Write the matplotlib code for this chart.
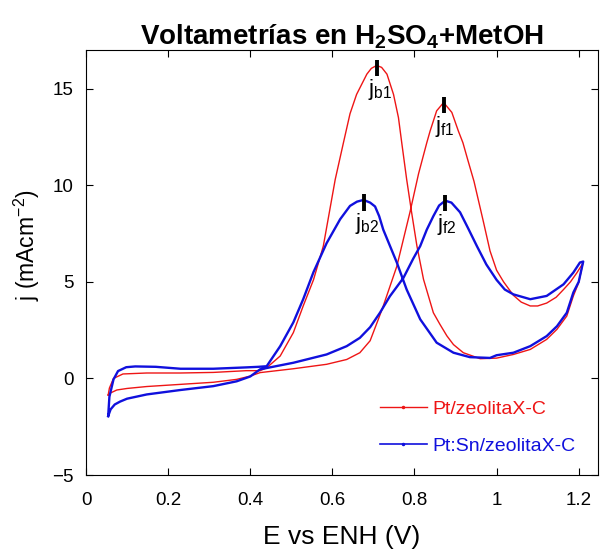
import numpy as np
import matplotlib
matplotlib.use("Agg")
from matplotlib import pyplot as plt
from matplotlib.lines import Line2D

plt.rcParams['font.family'] = ['Liberation Sans', 'DejaVu Sans']
plt.rcParams['mathtext.fontset'] = 'custom'
plt.rcParams['mathtext.rm'] = 'Liberation Sans'
plt.rcParams['mathtext.it'] = 'Liberation Sans'
plt.rcParams['mathtext.bf'] = 'Liberation Sans:bold'

# ---- datos (E en V, j en mA/cm2) ----
# Pt/zeolitaX-C : barrido directo
E_pt_ida = [0.054, 0.06, 0.075, 0.10, 0.148, 0.229, 0.31, 0.367, 0.40, 0.424,
            0.505, 0.586, 0.635, 0.667, 0.692, 0.712, 0.724, 0.757, 0.789, 0.81,
            0.83, 0.838, 0.854, 0.871, 0.891, 0.907, 0.918, 0.93, 0.945, 0.968,
            0.984, 1.0, 1.017, 1.041, 1.06, 1.082, 1.10, 1.122, 1.145, 1.163,
            1.18, 1.195, 1.21]
j_pt_ida = [-0.86, -0.75, -0.6, -0.52, -0.42, -0.31, -0.2, -0.05, 0.12, 0.3,
            0.5, 0.73, 0.98, 1.33, 1.95, 3.06, 3.75, 5.8, 8.6, 10.6,
            12.2, 12.8, 13.85, 14.28, 13.77, 12.8, 12.2, 11.3, 10.2, 8.1,
            6.6, 5.6, 5.0, 4.3, 3.95, 3.75, 3.75, 3.9, 4.2, 4.6,
            5.0, 5.45, 5.95]
# Pt/zeolitaX-C : barrido inverso
E_pt_vuelta = [1.21, 1.2, 1.187, 1.171, 1.147, 1.122, 1.082, 1.041, 1.0, 0.96,
               0.919, 0.895, 0.879, 0.862, 0.846, 0.822, 0.806, 0.793, 0.781, 0.769,
               0.761, 0.749, 0.733, 0.72, 0.708, 0.695, 0.684, 0.659, 0.643, 0.627,
               0.607, 0.578, 0.554, 0.529, 0.505, 0.473, 0.44, 0.424, 0.39, 0.31,
               0.23, 0.148, 0.09, 0.067, 0.057, 0.054]
j_pt_vuelta = [5.95, 4.96, 4.27, 3.23, 2.54, 2.02, 1.5, 1.24, 1.05, 1.02,
               1.33, 1.75, 2.2, 2.8, 3.4, 5.13, 6.85, 8.6, 10.3, 12.2,
               13.5, 14.7, 15.75, 16.1, 16.2, 16.05, 15.75, 14.7, 13.7, 12.2,
               10.3, 6.85, 5.1, 3.75, 2.37, 1.16, 0.55, 0.4, 0.4, 0.31,
               0.28, 0.28, 0.23, 0.0, -0.5, -0.86]

# Pt:Sn/zeolitaX-C : barrido directo
E_ptsn_ida = [0.054, 0.06, 0.07, 0.083, 0.10, 0.148, 0.23, 0.31, 0.367, 0.40,
              0.424, 0.505, 0.586, 0.635, 0.667, 0.692, 0.716, 0.74, 0.773, 0.797,
              0.814, 0.83, 0.846, 0.86, 0.875, 0.89, 0.911, 0.93, 0.952, 0.975,
              1.0, 1.02, 1.041, 1.082, 1.122, 1.163, 1.187, 1.203, 1.211]
j_ptsn_ida = [-1.95, -1.6, -1.35, -1.2, -1.05, -0.83, -0.6, -0.4, -0.15, 0.1,
              0.47, 0.81, 1.24, 1.67, 2.1, 2.65, 3.4, 4.25, 5.2, 6.2,
              6.85, 7.7, 8.4, 8.95, 9.2, 9.1, 8.6, 7.8, 6.85, 5.9,
              5.1, 4.6, 4.35, 4.1, 4.27, 4.87, 5.48, 6.0, 6.05]
# Pt:Sn/zeolitaX-C : barrido inverso
E_ptsn_vuelta = [1.211, 1.2, 1.187, 1.171, 1.147, 1.122, 1.082, 1.041, 1.0, 0.984,
                 0.935, 0.895, 0.854, 0.814, 0.781, 0.757, 0.724, 0.714, 0.704, 0.692,
                 0.676, 0.66, 0.643, 0.619, 0.586, 0.554, 0.529, 0.505, 0.473, 0.44,
                 0.42, 0.39, 0.31, 0.23, 0.17, 0.12, 0.098, 0.078, 0.067, 0.057, 0.054]
j_ptsn_vuelta = [6.05, 5.0, 4.45, 3.4, 2.7, 2.19, 1.67, 1.33, 1.2, 1.06,
                 1.1, 1.33, 1.85, 3.06, 4.6, 6.0, 7.7, 8.4, 8.9, 9.1,
                 9.24, 9.15, 8.93, 8.24, 7.0, 5.5, 4.1, 2.9, 1.67, 0.63,
                 0.6, 0.57, 0.5, 0.5, 0.6, 0.62, 0.58, 0.38, -0.05, -0.95, -1.95]

rojo = '#ee1515'
azul = '#1010dd'

fig = plt.figure(figsize=(6.01, 5.55), dpi=100)
ax = fig.add_axes([86/601, 80/555, 512/601, 425/555])

ax.plot(E_pt_ida + E_pt_vuelta, j_pt_ida + j_pt_vuelta, color=rojo, lw=1.0)
ax.plot(E_ptsn_ida + E_ptsn_vuelta, j_ptsn_ida + j_ptsn_vuelta, color=azul, lw=1.7)

# marcas de los picos (maximos de cada barrido)
picos = [(E_pt_vuelta, j_pt_vuelta, 'b1'), (E_pt_ida, j_pt_ida, 'f1'),
         (E_ptsn_vuelta, j_ptsn_vuelta, 'b2'), (E_ptsn_ida, j_ptsn_ida, 'f2')]
for E, j, nombre in picos:
    k = int(np.argmax(j))
    ax.plot([E[k], E[k]], [j[k] - 0.55, j[k] + 0.3], color='black', lw=2.8,
            solid_capstyle='butt')
    ax.annotate('j$_{' + nombre + '}$', (E[k], j[k]), xytext=(-6, -8),
                textcoords='offset points', ha='left', va='top', fontsize=16)

ax.set_xlim(0, 1.247)
ax.set_ylim(-5, 17)
ax.set_xticks([0, 0.2, 0.4, 0.6, 0.8, 1, 1.2])
ax.set_xticklabels(['0', '0.2', '0.4', '0.6', '0.8', '1', '1.2'])
ax.set_yticks([-5, 0, 5, 10, 15])
ax.tick_params(direction='in', top=True, right=True, length=5, width=0.8,
               labelsize=13.5)
ax.tick_params(axis='x', pad=12)
ax.tick_params(axis='y', pad=9)
for s in ax.spines.values():
    s.set_linewidth(0.8)

ax.set_xlabel('E vs ENH (V)', fontsize=19, labelpad=12)
ax.set_ylabel('j (mAcm$^{-2}$)', fontsize=16.5)
ax.yaxis.set_label_coords(-0.086, 0.541)
ax.set_title(r'Voltametrías en H$_\mathbf{2}$SO$_\mathbf{4}$+MetOH',
             fontsize=20, fontweight='bold', pad=4)

manejadores = [Line2D([], [], color=rojo, lw=1.0, marker='.', markersize=3),
               Line2D([], [], color=azul, lw=1.2, marker='.', markersize=3)]
ax.legend(manejadores, ['Pt/zeolitaX-C', 'Pt:Sn/zeolitaX-C'], loc='upper left',
          bbox_to_anchor=(0.574, 0.176), frameon=False, fontsize=14,
          handlelength=2.4, handletextpad=0.3, labelspacing=1.0,
          borderpad=0, borderaxespad=0, numpoints=1, labelcolor='linecolor')

plt.savefig('out.png', dpi=100)
